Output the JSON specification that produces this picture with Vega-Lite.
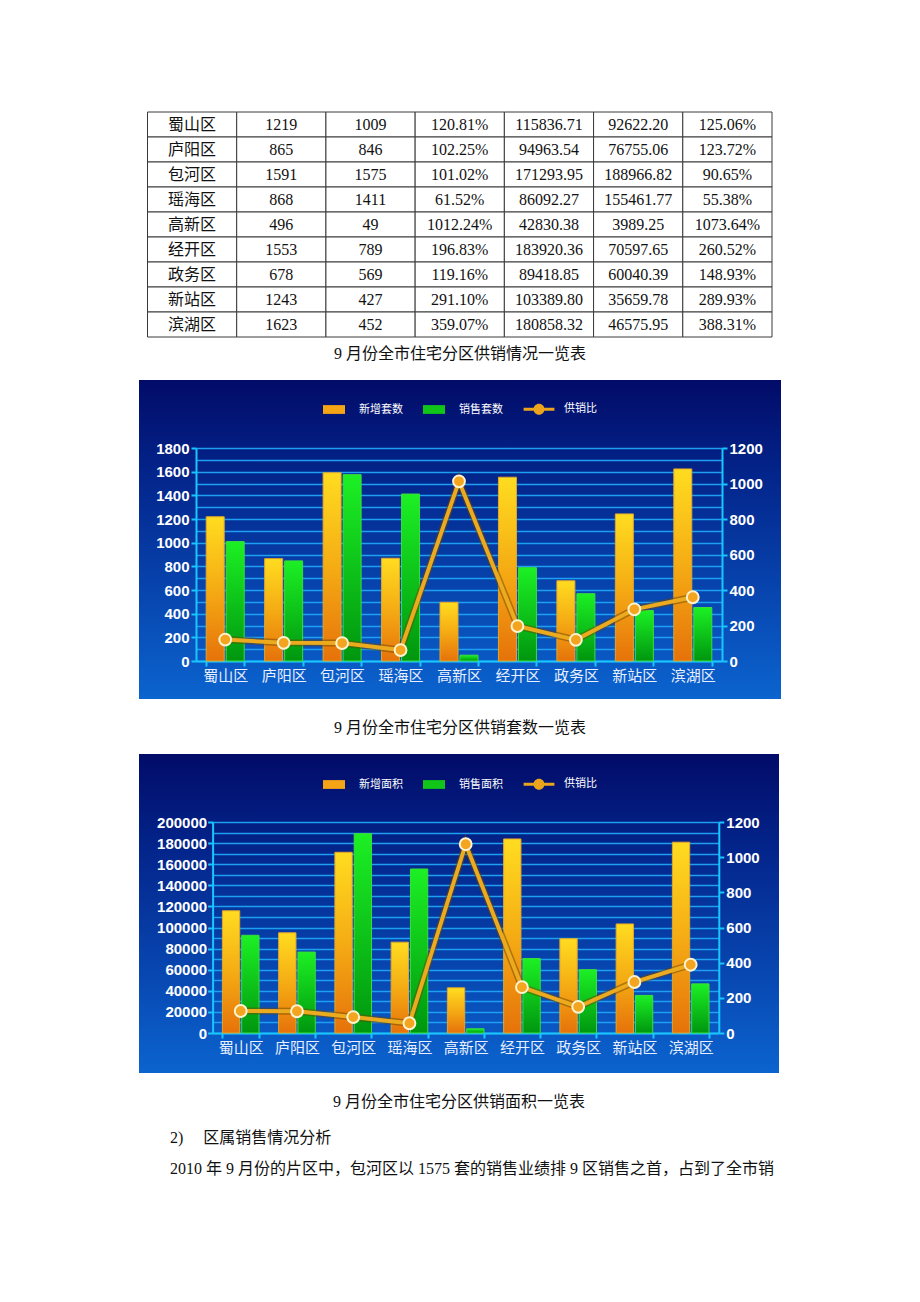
{
  "$schema": "https://vega.github.io/schema/vega-lite/v6.json",
  "background": "#ffffff",
  "padding": {"left": 139, "top": 111, "right": 100, "bottom": 20},
  "datasets": {
    "d": [
      {"district": "蜀山区", "new_units": 1219, "sold_units": 1009, "ratio_units": 120.81, "new_area": 115836.71, "sold_area": 92622.20, "ratio_area": 125.06},
      {"district": "庐阳区", "new_units": 865, "sold_units": 846, "ratio_units": 102.25, "new_area": 94963.54, "sold_area": 76755.06, "ratio_area": 123.72},
      {"district": "包河区", "new_units": 1591, "sold_units": 1575, "ratio_units": 101.02, "new_area": 171293.95, "sold_area": 188966.82, "ratio_area": 90.65},
      {"district": "瑶海区", "new_units": 868, "sold_units": 1411, "ratio_units": 61.52, "new_area": 86092.27, "sold_area": 155461.77, "ratio_area": 55.38},
      {"district": "高新区", "new_units": 496, "sold_units": 49, "ratio_units": 1012.24, "new_area": 42830.38, "sold_area": 3989.25, "ratio_area": 1073.64},
      {"district": "经开区", "new_units": 1553, "sold_units": 789, "ratio_units": 196.83, "new_area": 183920.36, "sold_area": 70597.65, "ratio_area": 260.52},
      {"district": "政务区", "new_units": 678, "sold_units": 569, "ratio_units": 119.16, "new_area": 89418.85, "sold_area": 60040.39, "ratio_area": 148.93},
      {"district": "新站区", "new_units": 1243, "sold_units": 427, "ratio_units": 291.10, "new_area": 103389.80, "sold_area": 35659.78, "ratio_area": 289.93},
      {"district": "滨湖区", "new_units": 1623, "sold_units": 452, "ratio_units": 359.07, "new_area": 180858.32, "sold_area": 46575.95, "ratio_area": 388.31}
    ],
    "t": [
      {"district": "蜀山区", "a": "1219", "b": "1009", "c": "120.81%", "d": "115836.71", "e": "92622.20", "f": "125.06%"},
      {"district": "庐阳区", "a": "865", "b": "846", "c": "102.25%", "d": "94963.54", "e": "76755.06", "f": "123.72%"},
      {"district": "包河区", "a": "1591", "b": "1575", "c": "101.02%", "d": "171293.95", "e": "188966.82", "f": "90.65%"},
      {"district": "瑶海区", "a": "868", "b": "1411", "c": "61.52%", "d": "86092.27", "e": "155461.77", "f": "55.38%"},
      {"district": "高新区", "a": "496", "b": "49", "c": "1012.24%", "d": "42830.38", "e": "3989.25", "f": "1073.64%"},
      {"district": "经开区", "a": "1553", "b": "789", "c": "196.83%", "d": "183920.36", "e": "70597.65", "f": "260.52%"},
      {"district": "政务区", "a": "678", "b": "569", "c": "119.16%", "d": "89418.85", "e": "60040.39", "f": "148.93%"},
      {"district": "新站区", "a": "1243", "b": "427", "c": "291.10%", "d": "103389.80", "e": "35659.78", "f": "289.93%"},
      {"district": "滨湖区", "a": "1623", "b": "452", "c": "359.07%", "d": "180858.32", "e": "46575.95", "f": "388.31%"}
    ]
  },
  "title": {
    "text": ["2)\u3000 区属销售情况分析", "2010 年 9 月份的片区中，包河区以 1575 套的销售业绩排 9 区销售之首，占到了全市销"],
    "orient": "bottom", "anchor": "start", "frame": "bounds", "offset": 20, "dx": 31, "lineHeight": 31,
    "fontSize": 16, "fontWeight": "normal", "font": "Liberation Serif, Noto Sans CJK SC", "color": "#111111"
  },
  "spacing": 18,
  "resolve": {"scale": {"color": "independent", "shape": "independent"}},
  "vconcat": [
    {
      "width": 642, "height": 225,
      "data": {"name": "t"},
      "transform": [{"fold": ["district", "a", "b", "c", "d", "e", "f"], "as": ["col", "val"]}],
      "title": {"text": "9 月份全市住宅分区供销情况一览表", "orient": "bottom", "offset": 8},
      "encoding": {
        "x": {"field": "col", "type": "nominal", "sort": ["district", "a", "b", "c", "d", "e", "f"], "scale": {"range": [8.5, 633], "paddingInner": 0, "paddingOuter": 0}, "axis": null},
        "y": {"field": "district", "type": "nominal", "sort": null, "scale": {"paddingInner": 0, "paddingOuter": 0}, "axis": null}
      },
      "layer": [
        {"mark": {"type": "rect", "fill": "#ffffff", "stroke": "#3a3a3a", "strokeWidth": 1}},
        {"mark": {"type": "text", "font": "Liberation Serif, Noto Sans CJK SC", "fontSize": 16, "color": "#111111"}, "encoding": {"text": {"field": "val"}}}
      ]
    },
    {
      "width": 642, "height": 319,
      "view": {"stroke": null, "fill": {"gradient": "linear", "x1": 0, "y1": 0, "x2": 0, "y2": 1, "stops": [{"offset": 0, "color": "#020b68"}, {"offset": 0.3, "color": "#03258b"}, {"offset": 0.7, "color": "#0848b2"}, {"offset": 1, "color": "#0b64cf"}]}},
      "title": {"text": "9 月份全市住宅分区供销套数一览表", "orient": "bottom", "offset": 21},
      "data": {"name": "d"},
      "layer": [
        {
          "mark": {"type": "bar", "opacity": 0},
          "encoding": {
            "x": {"field": "district", "type": "nominal", "sort": null, "scale": {"range": [57, 583], "paddingInner": 0.35, "paddingOuter": 0.175},
              "axis": {"orient": "bottom", "offset": -38, "title": null, "labelAngle": 0, "labelColor": "#e8efff", "labelFont": "Noto Sans CJK SC", "labelFontSize": 15, "labelPadding": 2, "tickBand": "extent", "tickSize": 5, "tickColor": "#19c6ff", "tickWidth": 2, "domainColor": "#19c6ff", "domainWidth": 2, "grid": false}},
            "y": {"field": "new_units", "type": "quantitative", "scale": {"domain": [0, 1800], "range": [281, 68]},
              "axis": {"orient": "left", "offset": -57, "title": null, "format": "d", "values": [0, 100, 200, 300, 400, 500, 600, 700, 800, 900, 1000, 1100, 1200, 1300, 1400, 1500, 1600, 1700, 1800],
                "labelExpr": "datum.value % 200 === 0 ? datum.label : ''", "grid": true, "gridColor": "#1f9ff2", "gridWidth": 1.5,
                "domainColor": "#19c6ff", "domainWidth": 2, "tickColor": "#19c6ff", "tickWidth": 2, "tickSize": 5,
                "tickOpacity": {"condition": {"test": "datum.value % 200 === 0", "value": 1}, "value": 0},
                "labelColor": "#ffffff", "labelFont": "Liberation Sans", "labelFontWeight": "bold", "labelFontSize": 15, "labelPadding": 2}}
          }
        },
        {
          "mark": {"type": "bar", "strokeWidth": 1, "stroke": "#e2a62a", "fill": {"gradient": "linear", "x1": 0, "y1": 0, "x2": 0, "y2": 1, "stops": [{"offset": 0, "color": "#ffdc20"}, {"offset": 0.5, "color": "#f5ac14"}, {"offset": 1, "color": "#e6720a"}]}},
          "encoding": {
            "x": {"field": "district", "type": "nominal", "sort": null, "scale": {"range": [67.2, 552.8], "paddingInner": 0.692, "paddingOuter": 0}, "axis": null},
            "y": {"field": "new_units", "type": "quantitative", "scale": {"domain": [0, 1800], "range": [281, 68]}, "axis": null}
          }
        },
        {
          "mark": {"type": "bar", "strokeWidth": 1, "stroke": "#3cdc3c", "fill": {"gradient": "linear", "x1": 0, "y1": 0, "x2": 0, "y2": 1, "stops": [{"offset": 0, "color": "#1cf024"}, {"offset": 1, "color": "#00960f"}]}},
          "encoding": {
            "x": {"field": "district", "type": "nominal", "sort": null, "scale": {"range": [87.2, 572.8], "paddingInner": 0.692, "paddingOuter": 0}, "axis": null},
            "y": {"field": "sold_units", "type": "quantitative", "scale": {"domain": [0, 1800], "range": [281, 68]}, "axis": null}
          }
        },
        {
          "encoding": {
            "x": {"field": "district", "type": "nominal", "sort": null, "scale": {"range": [57, 583], "paddingInner": 0.35, "paddingOuter": 0.175}, "axis": null},
            "y": {"field": "ratio_units", "type": "quantitative", "scale": {"domain": [0, 1200], "range": [281, 68]},
              "axis": {"orient": "right", "offset": -59, "title": null, "format": "d", "values": [0, 200, 400, 600, 800, 1000, 1200], "grid": false,
                "domainColor": "#19c6ff", "domainWidth": 2, "tickColor": "#19c6ff", "tickWidth": 2, "tickSize": 5,
                "labelColor": "#ffffff", "labelFont": "Liberation Sans", "labelFontWeight": "bold", "labelFontSize": 15, "labelPadding": 2}}
          },
          "layer": [
            {"mark": {"type": "line", "stroke": "#6e4600", "strokeWidth": 7, "opacity": 0.5}},
            {"mark": {"type": "line", "stroke": "#ecaa1f", "strokeWidth": 4}},
            {"mark": {"type": "point", "filled": true, "fill": "#f3a51f", "stroke": "#fff3d0", "strokeWidth": 2, "size": 140, "opacity": 1}}
          ]
        },
        {
          "transform": [{"filter": "datum.new_units < 0"}],
          "mark": {"type": "point", "filled": true},
          "encoding": {
            "color": {"datum": "新增套数", "scale": {"domain": ["新增套数", "销售套数", "供销比"], "range": ["#f5a416", "#11c618", "#eaa51d"]}, "legend": {"title": null}},
            "shape": {"datum": "新增套数", "scale": {"domain": ["新增套数", "销售套数", "供销比"], "range": ["M-1,-0.4H1V0.4H-1Z", "M-1,-0.4H1V0.4H-1Z", "M-1.4,-0.14H1.4V0.14H-1.4Z M0.5,0A0.5,0.5,0,1,1,-0.5,0A0.5,0.5,0,1,1,0.5,0Z"]}, "legend": {"title": null}}
          }
        }
      ],
      "resolve": {"scale": {"x": "independent", "y": "independent"}}
    },
    {
      "width": 640, "height": 319,
      "view": {"stroke": null, "fill": {"gradient": "linear", "x1": 0, "y1": 0, "x2": 0, "y2": 1, "stops": [{"offset": 0, "color": "#020b68"}, {"offset": 0.3, "color": "#03258b"}, {"offset": 0.7, "color": "#0848b2"}, {"offset": 1, "color": "#0b64cf"}]}},
      "title": {"text": "9 月份全市住宅分区供销面积一览表", "orient": "bottom", "offset": 21},
      "data": {"name": "d"},
      "layer": [
        {
          "mark": {"type": "bar", "opacity": 0},
          "encoding": {
            "x": {"field": "district", "type": "nominal", "sort": null, "scale": {"range": [73.6, 579.8], "paddingInner": 0.35, "paddingOuter": 0.175},
              "axis": {"orient": "bottom", "offset": -40, "title": null, "labelAngle": 0, "labelColor": "#e8efff", "labelFont": "Noto Sans CJK SC", "labelFontSize": 15, "labelPadding": 2, "tickBand": "extent", "tickSize": 5, "tickColor": "#19c6ff", "tickWidth": 2, "domainColor": "#19c6ff", "domainWidth": 2, "grid": false}},
            "y": {"field": "new_area", "type": "quantitative", "scale": {"domain": [0, 200000], "range": [279, 68]},
              "axis": {"orient": "left", "offset": -73.6, "title": null, "values": [0, 10000, 20000, 30000, 40000, 50000, 60000, 70000, 80000, 90000, 100000, 110000, 120000, 130000, 140000, 150000, 160000, 170000, 180000, 190000, 200000],
                "format": "d", "labelExpr": "datum.value % 20000 === 0 ? datum.label : ''", "grid": true, "gridColor": "#1f9ff2", "gridWidth": 1.5,
                "domainColor": "#19c6ff", "domainWidth": 2, "tickColor": "#19c6ff", "tickWidth": 2, "tickSize": 5,
                "tickOpacity": {"condition": {"test": "datum.value % 20000 === 0", "value": 1}, "value": 0},
                "labelColor": "#ffffff", "labelFont": "Liberation Sans", "labelFontWeight": "bold", "labelFontSize": 15, "labelPadding": 1}}
          }
        },
        {
          "mark": {"type": "bar", "strokeWidth": 1, "stroke": "#e2a62a", "fill": {"gradient": "linear", "x1": 0, "y1": 0, "x2": 0, "y2": 1, "stops": [{"offset": 0, "color": "#ffdc20"}, {"offset": 0.5, "color": "#f5ac14"}, {"offset": 1, "color": "#e6720a"}]}},
          "encoding": {
            "x": {"field": "district", "type": "nominal", "sort": null, "scale": {"range": [83.4, 550.7], "paddingInner": 0.692, "paddingOuter": 0}, "axis": null},
            "y": {"field": "new_area", "type": "quantitative", "scale": {"domain": [0, 200000], "range": [279, 68]}, "axis": null}
          }
        },
        {
          "mark": {"type": "bar", "strokeWidth": 1, "stroke": "#3cdc3c", "fill": {"gradient": "linear", "x1": 0, "y1": 0, "x2": 0, "y2": 1, "stops": [{"offset": 0, "color": "#1cf024"}, {"offset": 1, "color": "#00960f"}]}},
          "encoding": {
            "x": {"field": "district", "type": "nominal", "sort": null, "scale": {"range": [102.7, 570.0], "paddingInner": 0.692, "paddingOuter": 0}, "axis": null},
            "y": {"field": "sold_area", "type": "quantitative", "scale": {"domain": [0, 200000], "range": [279, 68]}, "axis": null}
          }
        },
        {
          "encoding": {
            "x": {"field": "district", "type": "nominal", "sort": null, "scale": {"range": [73.6, 579.8], "paddingInner": 0.35, "paddingOuter": 0.175}, "axis": null},
            "y": {"field": "ratio_area", "type": "quantitative", "scale": {"domain": [0, 1200], "range": [279, 68]},
              "axis": {"orient": "right", "offset": -60.2, "title": null, "format": "d", "values": [0, 200, 400, 600, 800, 1000, 1200], "grid": false,
                "domainColor": "#19c6ff", "domainWidth": 2, "tickColor": "#19c6ff", "tickWidth": 2, "tickSize": 5,
                "labelColor": "#ffffff", "labelFont": "Liberation Sans", "labelFontWeight": "bold", "labelFontSize": 15, "labelPadding": 2}}
          },
          "layer": [
            {"mark": {"type": "line", "stroke": "#6e4600", "strokeWidth": 7, "opacity": 0.5}},
            {"mark": {"type": "line", "stroke": "#ecaa1f", "strokeWidth": 4}},
            {"mark": {"type": "point", "filled": true, "fill": "#f3a51f", "stroke": "#fff3d0", "strokeWidth": 2, "size": 140, "opacity": 1}}
          ]
        },
        {
          "transform": [{"filter": "datum.new_area < 0"}],
          "mark": {"type": "point", "filled": true},
          "encoding": {
            "color": {"datum": "新增面积", "scale": {"domain": ["新增面积", "销售面积", "供销比"], "range": ["#f5a416", "#11c618", "#eaa51d"]}, "legend": {"title": null, "legendY": 19}},
            "shape": {"datum": "新增面积", "scale": {"domain": ["新增面积", "销售面积", "供销比"], "range": ["M-1,-0.4H1V0.4H-1Z", "M-1,-0.4H1V0.4H-1Z", "M-1.4,-0.14H1.4V0.14H-1.4Z M0.5,0A0.5,0.5,0,1,1,-0.5,0A0.5,0.5,0,1,1,0.5,0Z"]}, "legend": {"title": null, "legendY": 19}}
          }
        }
      ],
      "resolve": {"scale": {"x": "independent", "y": "independent"}}
    }
  ],
  "config": {
    "view": {"stroke": null},
    "title": {"font": "Liberation Serif, Noto Sans CJK SC", "fontSize": 16, "fontWeight": "normal", "color": "#111111", "anchor": "middle"},
    "legend": {"orient": "none", "legendX": 184, "legendY": 18, "direction": "horizontal", "labelColor": "#ffffff", "labelFont": "Noto Sans CJK SC", "labelFontSize": 11, "symbolSize": 484, "symbolStrokeWidth": 0, "symbolOpacity": 1, "columnPadding": 20, "labelOffset": 14, "padding": 0}
  }
}
